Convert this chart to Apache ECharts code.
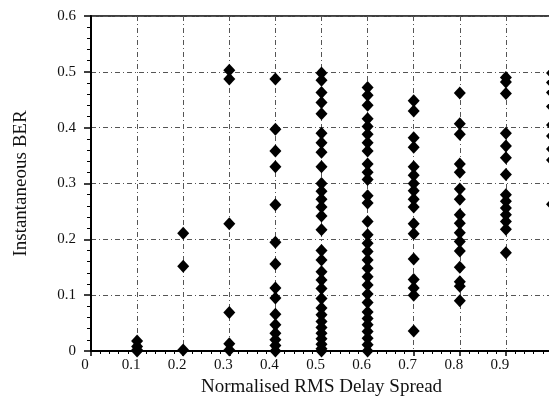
<!DOCTYPE html>
<html>
<head>
<meta charset="utf-8">
<script src="https://cdn.jsdelivr.net/npm/echarts@6/dist/echarts.min.js"></script>
<style>html,body{margin:0;padding:0;background:#fff}#c{width:549px;height:405px}</style>
</head>
<body>
<div id="c"></div>
<script>
// x-axis tick labels
const xTicks = [0, 0.1, 0.2, 0.3, 0.4, 0.5, 0.6, 0.7, 0.8, 0.9];
// delay spread columns (x values)
const xCols = [0.1, 0.2, 0.3, 0.4, 0.5, 0.6, 0.7, 0.8, 0.9, 1.0];
// BER values per column
const ber01 = [0.018, 0.008, 0.002, 0];
const ber02 = [0.211, 0.152, 0.002];
const ber03 = [0.503, 0.487, 0.228, 0.069, 0.013, 0.002];
const ber04 = [0.487, 0.397, 0.358, 0.33, 0.262, 0.195, 0.156, 0.113, 0.095, 0.066, 0.047, 0.032, 0.02, 0.01, 0];
const ber05 = [0.498, 0.485, 0.463, 0.445, 0.425, 0.39, 0.373, 0.356, 0.33, 0.3, 0.286, 0.272, 0.258, 0.242, 0.217, 0.18, 0.163, 0.142, 0.127, 0.112, 0.094, 0.077, 0.065, 0.053, 0.042, 0.032, 0.022, 0.012, 0.004, 0];
const ber06 = [0.472, 0.458, 0.44, 0.416, 0.402, 0.388, 0.373, 0.358, 0.335, 0.32, 0.307, 0.278, 0.265, 0.232, 0.208, 0.193, 0.178, 0.163, 0.148, 0.133, 0.118, 0.102, 0.087, 0.07, 0.058, 0.047, 0.035, 0.023, 0.011, 0];
const ber07 = [0.448, 0.43, 0.382, 0.365, 0.33, 0.315, 0.3, 0.287, 0.272, 0.258, 0.228, 0.21, 0.165, 0.128, 0.113, 0.1, 0.036];
const ber08 = [0.462, 0.407, 0.388, 0.335, 0.32, 0.29, 0.272, 0.244, 0.229, 0.212, 0.196, 0.179, 0.15, 0.124, 0.116, 0.09];
const ber09 = [0.49, 0.482, 0.461, 0.39, 0.367, 0.346, 0.316, 0.28, 0.268, 0.256, 0.244, 0.232, 0.218, 0.176];
const ber10 = [0.498, 0.481, 0.463, 0.438, 0.405, 0.385, 0.362, 0.342, 0.263];
const berCols = [ber01, ber02, ber03, ber04, ber05, ber06, ber07, ber08, ber09, ber10];

const pts = [];
berCols.forEach((col, i) => col.forEach(v => pts.push([xCols[i], v])));

const serif = '"Liberation Serif", "DejaVu Serif", serif';
const chart = echarts.init(document.getElementById('c'), null, {renderer: 'canvas'});
chart.setOption({
  animation: false,
  backgroundColor: '#fff',
  grid: {left: 91, top: 16, width: 461, bottom: 54, outerBoundsMode: 'none', containLabel: false,
    show: true, borderColor: '#000', borderWidth: 1.5, backgroundColor: 'transparent'},
  xAxis: {
    type: 'value', min: 0, max: 1, interval: 0.1,
    name: 'Normalised RMS Delay Spread', nameLocation: 'middle', nameGap: 27,
    nameTextStyle: {fontFamily: serif, fontSize: 19, color: '#111'},
    axisLine: {show: true, onZero: false, lineStyle: {color: '#000', width: 2}},
    axisTick: {show: true, inside: false, length: 5, lineStyle: {color: '#000', width: 1.5}},
    minorTick: {show: true, splitNumber: 5, length: 3, lineStyle: {color: '#000', width: 1}},
    axisLabel: {fontFamily: serif, fontSize: 15, color: '#111', margin: 7, padding: [0, 12, 0, 0],
      formatter: v => { const r = Math.round(v * 10) / 10; return xTicks.indexOf(r) >= 0 ? String(r) : ''; }},
    splitLine: {show: true, lineStyle: {color: '#555', width: 1, type: [5, 3, 1, 3]}}
  },
  yAxis: {
    type: 'value', min: 0, max: 0.6, interval: 0.1,
    name: 'Instantaneous BER', nameLocation: 'middle', nameGap: 60,
    nameTextStyle: {fontFamily: serif, fontSize: 19, color: '#111'},
    axisLine: {show: true, onZero: false, lineStyle: {color: '#000', width: 2}},
    axisTick: {show: true, inside: false, length: 7, lineStyle: {color: '#000', width: 1.5}},
    minorTick: {show: true, splitNumber: 5, length: 4, lineStyle: {color: '#000', width: 1}},
    axisLabel: {fontFamily: serif, fontSize: 15, color: '#111', margin: 15,
      formatter: v => String(Math.round(v * 10) / 10)},
    splitLine: {show: true, lineStyle: {color: '#555', width: 1, type: [5, 3, 1, 3]}}
  },
  series: [{
    type: 'scatter',
    data: pts,
    symbol: 'diamond',
    symbolSize: [12, 13],
    itemStyle: {color: '#000', opacity: 1},
    clip: false
  }]
});
</script>
</body>
</html>
